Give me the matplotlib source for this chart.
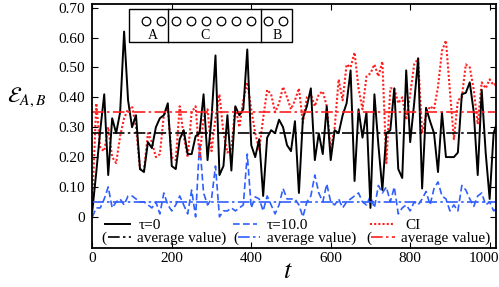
import matplotlib
matplotlib.use("Agg")
import matplotlib.pyplot as plt
import matplotlib.transforms as mtransforms
import numpy as np
from matplotlib.patches import Rectangle

plt.rcParams["font.family"] = ["Liberation Serif", "DejaVu Serif"]
plt.rcParams["mathtext.fontset"] = "stix"

# --- data ---
t = np.arange(0, 1030, 10)

tau0 = [0.02, 0.15, 0.29, 0.41, 0.14, 0.33, 0.28, 0.35, 0.62, 0.39,
        0.30, 0.34, 0.16, 0.15, 0.25, 0.23, 0.30, 0.33, 0.34, 0.38,
        0.17, 0.16, 0.26, 0.29, 0.21, 0.21, 0.27, 0.28, 0.41, 0.19,
        0.33, 0.54, 0.14, 0.17, 0.34, 0.155, 0.37, 0.34, 0.36, 0.56,
        0.24, 0.20, 0.26, 0.07, 0.265, 0.29, 0.28, 0.325, 0.30, 0.24,
        0.22, 0.32, 0.08, 0.33, 0.37, 0.43, 0.19, 0.28, 0.21, 0.37,
        0.19, 0.29, 0.28, 0.34, 0.38, 0.49, 0.12, 0.36, 0.265, 0.35,
        0.03, 0.41, 0.24, 0.09, 0.28, 0.29, 0.43, 0.16, 0.13, 0.49,
        0.25, 0.38, 0.53, 0.095, 0.365, 0.32, 0.28, 0.15, 0.35, 0.20,
        0.20, 0.20, 0.215, 0.41, 0.415, 0.45, 0.35, 0.14, 0.425, 0.215,
        0.06, 0.28, 0.32]

tau10 = [0.00, 0.03, 0.03, 0.06, 0.10, 0.03, 0.05, 0.06, 0.04, 0.07,
         0.07, 0.06, 0.05, 0.05, 0.04, 0.03, 0.05, 0.01, 0.08, 0.04,
         0.02, 0.04, 0.07, 0.04, 0.01, 0.09, 0.00, 0.25, 0.08, 0.04,
         0.06, 0.17, 0.00, 0.02, 0.02, 0.03, 0.02, 0.03, 0.04, 0.21,
         0.03, 0.067, 0.06, 0.02, 0.07, 0.04, 0.01, 0.04, 0.095, 0.06,
         0.06, 0.06, 0.04, 0.00, 0.05, 0.07, 0.14, 0.08, 0.05, 0.11,
         0.05, 0.04, 0.06, 0.03, 0.05, 0.06, 0.07, 0.08, 0.05, 0.04,
         0.07, 0.03, 0.105, 0.08, 0.10, 0.05, 0.10, 0.01, 0.03, 0.04,
         0.02, 0.05, 0.04, 0.06, 0.085, 0.04, 0.095, 0.117, 0.07, 0.06,
         0.02, 0.04, 0.02, 0.105, 0.09, 0.06, 0.035, 0.07, 0.08, 0.04,
         0.05, 0.02, 0.03]

ci = [0.05, 0.38, 0.23, 0.22, 0.30, 0.20, 0.18, 0.27, 0.33, 0.36,
      0.37, 0.30, 0.16, 0.155, 0.28, 0.25, 0.20, 0.21, 0.34, 0.36,
      0.20, 0.19, 0.37, 0.27, 0.20, 0.35, 0.37, 0.20, 0.33, 0.36,
      0.22, 0.33, 0.41, 0.28, 0.215, 0.23, 0.37, 0.30, 0.39, 0.45,
      0.36, 0.28, 0.225, 0.33, 0.425, 0.41, 0.35, 0.38, 0.435, 0.40,
      0.36, 0.39, 0.43, 0.315, 0.40, 0.41, 0.37, 0.41, 0.42, 0.37,
      0.225, 0.30, 0.46, 0.39, 0.51, 0.50, 0.55, 0.43, 0.36, 0.47,
      0.48, 0.51, 0.47, 0.52, 0.18, 0.43, 0.43, 0.38, 0.40, 0.325,
      0.41, 0.51, 0.53, 0.28, 0.34, 0.37, 0.36, 0.435, 0.555, 0.59,
      0.42, 0.26, 0.39, 0.40, 0.51, 0.50, 0.425, 0.31, 0.45, 0.43,
      0.46, 0.44, 0.45]

avg_tau0 = 0.28
avg_tau10 = 0.05
avg_ci = 0.35

series_labels = ["τ=0", "τ=10.0", "CI"]
x_ticks = [0, 200, 400, 600, 800, 1000]
y_ticks = [0, 0.1, 0.2, 0.3, 0.4, 0.5, 0.6, 0.7]

RED = "#ff1f1f"
BLUE = "#2f5fff"
dashdot = (0, (7, 2, 1.5, 2))
styles = [("black", "-", 1.4), (BLUE, (0, (4, 2)), 1.2), (RED, (0, (1, 1)), 1.5)]

fig = plt.figure(figsize=(4.99, 2.87), dpi=100)
ax = fig.add_axes([0.185, 0.137, 0.809, 0.849])

ax.plot(t, tau10, color=BLUE, lw=1.2, ls=(0, (4, 2)))
ax.plot(t, ci, color=RED, lw=1.5, ls=(0, (1, 1)))
ax.plot(t, tau0, color="black", lw=1.4)
ax.axhline(avg_tau10, color=BLUE, lw=1.2, ls=dashdot)
ax.axhline(avg_ci, color=RED, lw=1.2, ls=dashdot)
ax.axhline(avg_tau0, color="black", lw=1.2, ls=dashdot)

ax.set_xlim(0, 1016)
ax.set_ylim(-0.103, 0.712)
ax.set_xticks(x_ticks)
ax.set_yticks(y_ticks)
ax.set_yticklabels(["0" if v == 0 else f"{v:.2f}" for v in y_ticks])
ax.tick_params(direction="in", top=True, right=True, length=4, width=0.8,
               labelsize=11)
ax.tick_params(axis="x", pad=3)
ax.tick_params(axis="y", pad=5)
for s in ax.spines.values():
    s.set_linewidth(1.3)
# last x label sits a little left so it stays inside the figure
last = ax.get_xticklabels()[-1]
last.set_transform(last.get_transform()
                   + mtransforms.ScaledTranslation(-0.06, 0, fig.dpi_scale_trans))

ax.set_ylabel(r"$\mathcal{E}_{A,B}$", fontsize=16, rotation=0,
              ha="center", va="center")
ax.yaxis.set_label_coords(-0.163, 0.618)
ax.set_xlabel(r"$t$", fontsize=19, va="center")
ax.xaxis.set_label_coords(0.485, -0.10)

# hand-placed legend: row 1 = series, row 2 = "(" + average line + text
row1_y, row2_y = 0.099, 0.044
h1 = [(0.0315, 0.0935), (0.3488, 0.4083), (0.6884, 0.7504)]
h2 = [(0.039, 0.096), (0.361, 0.4157), (0.691, 0.7504)]
paren_x = [0.0233, 0.3488, 0.6777]
txt1_x = [0.1158, 0.4323, 0.7752]
txt2_x = [0.1108, 0.4323, 0.7653]
for i, (col, ls, lw) in enumerate(styles):
    ax.plot(h1[i], [row1_y, row1_y], transform=ax.transAxes, color=col,
            ls=ls, lw=lw, clip_on=False)
    ax.text(txt1_x[i], row1_y - 0.006, series_labels[i], transform=ax.transAxes,
            fontsize=11, ha="left", va="center")
    ax.plot(h2[i], [row2_y, row2_y], transform=ax.transAxes, color=col,
            ls=dashdot, lw=1.2, clip_on=False)
    ax.text(paren_x[i], row2_y - 0.004, "(", transform=ax.transAxes,
            fontsize=11, ha="left", va="center")
    ax.text(txt2_x[i], row2_y - 0.004, "average value)", transform=ax.transAxes,
            fontsize=11, ha="left", va="center")

# schematic of the chain: A | C | B
box_y0, box_y1 = 0.844, 0.981
ax.add_patch(Rectangle((0.0897, box_y0), 0.494 - 0.0897, box_y1 - box_y0,
                       transform=ax.transAxes, facecolor="white",
                       edgecolor="black", lw=1.0, zorder=5))
for xd in (0.188, 0.417):
    ax.plot([xd, xd], [box_y0, box_y1], transform=ax.transAxes,
            color="black", lw=1.0, zorder=6)
circ_x = [0.133, 0.169, 0.207, 0.244, 0.281, 0.318, 0.356, 0.393, 0.436, 0.472]
ax.plot(circ_x, [0.93] * len(circ_x), transform=ax.transAxes, ls="none",
        marker="o", ms=6.2, mfc="white", mec="black", mew=0.9, zorder=7)
for lab, xl in (("A", 0.150), ("C", 0.280), ("B", 0.457)):
    ax.text(xl, 0.872, lab, transform=ax.transAxes, fontsize=10,
            ha="center", va="center", zorder=7)

fig.savefig("out.png", dpi=100)
